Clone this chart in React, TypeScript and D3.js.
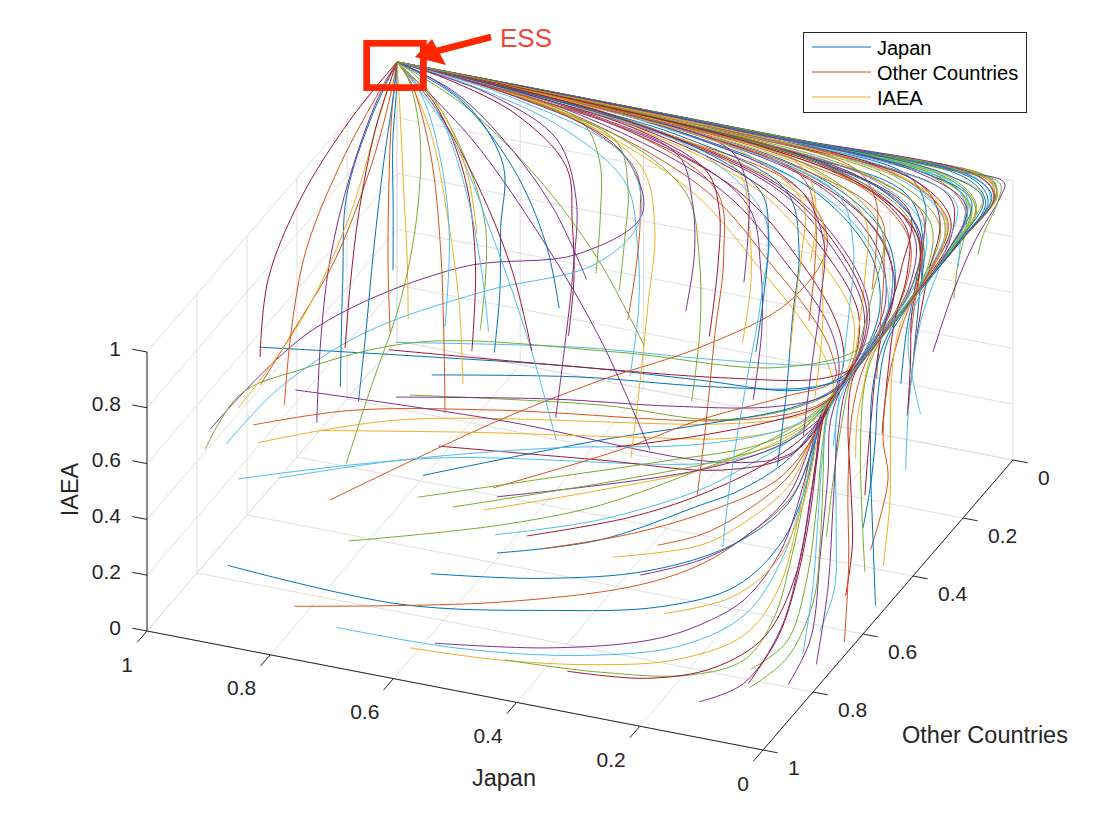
import React from "react";
import * as d3 from "d3";

// a point of a trajectory: [Japan, Other Countries, IAEA]
type Pt = [number, number, number];

const TICKS = [0, 0.2, 0.4, 0.6, 0.8, 1];
const TICK_LABELS = ["0", "0.2", "0.4", "0.6", "0.8", "1"];
const SERIES_NAMES = ["Japan", "Other Countries", "IAEA"];
const COLORS = ["#0072BD", "#D95319", "#EDB120", "#7E2F8E", "#77AC30", "#4DBEEE", "#A2142F"];
const ESS: Pt = [1, 0, 1];

// start low at the front, drift to Japan = 0, climb the right face, run along the top edge
const FRONT_RUNS: Pt[][] = [
  [[0.91,0.9,0.17],[0.63,0.9,0.15],[0.39,0.9,0.23],[0.21,0.89,0.31],[0.1,0.86,0.4],[0.04,0.82,0.55],[0.012,0.79,0.75],[0.003,0.77,0.92],[0,0.74,0.975],[0,0.6,0.99],[0,0.4,0.997],[0.001,0.2,0.999],[0.004,0.06,1],[0.03,0.01,1],[0.3,0.002,1],[1,0,1]],
  [[0.81,0.88,0.045],[0.48,0.88,0.2],[0.25,0.88,0.36],[0.15,0.87,0.47],[0.09,0.85,0.57],[0.03,0.81,0.7],[0.008,0.78,0.85],[0.002,0.75,0.95],[0.001,0.63,0.979],[0.006,0.5,0.985],[0.025,0.37,0.988],[0.08,0.22,0.99],[0.22,0.09,0.992],[0.57,0.017,0.996],[1,0,1]],
  [[0.585,0.97,0.085],[0.44,0.97,0.104],[0.28,0.97,0.155],[0.15,0.97,0.23],[0.05,0.95,0.34],[0.015,0.9,0.47],[0.005,0.85,0.66],[0.001,0.81,0.85],[0,0.77,0.96],[0,0.6,0.985],[0.001,0.42,0.992],[0.005,0.25,0.995],[0.02,0.1,0.997],[0.09,0.03,0.998],[0.42,0.006,0.999],[1,0,1]],
  [[0.553,0.95,0.095],[0.366,0.95,0.158],[0.204,0.95,0.255],[0.123,0.95,0.344],[0.058,0.93,0.443],[0.02,0.88,0.58],[0.005,0.83,0.76],[0.001,0.79,0.91],[0,0.75,0.97],[0.005,0.66,0.975],[0.02,0.56,0.98],[0.06,0.45,0.983],[0.15,0.32,0.985],[0.32,0.15,0.987],[0.65,0.03,0.994],[1,0,1]],
  [[0.419,1,0.144],[0.265,1,0.166],[0.119,1,0.218],[0.037,0.98,0.289],[0.01,0.93,0.4],[0.003,0.88,0.56],[0,0.83,0.75],[0,0.79,0.9],[0,0.76,0.97],[0,0.58,0.992],[0,0.38,0.998],[0.001,0.18,1],[0.005,0.05,1],[0.04,0.008,1],[0.36,0.001,1],[1,0,1]],
  [[0.557,0.7,0.222],[0.386,0.7,0.349],[0.224,0.7,0.525],[0.159,0.7,0.625],[0.08,0.7,0.76],[0.03,0.68,0.88],[0.008,0.64,0.95],[0,0.62,0.98],[0.004,0.48,0.987],[0.02,0.35,0.99],[0.07,0.2,0.992],[0.2,0.08,0.993],[0.55,0.015,0.996],[1,0,1]],
  [[0.505,0.7,0.24],[0.338,0.7,0.378],[0.224,0.7,0.507],[0.12,0.7,0.66],[0.04,0.72,0.83],[0.01,0.7,0.93],[0.002,0.64,0.978],[0.01,0.52,0.984],[0.035,0.4,0.987],[0.1,0.26,0.989],[0.26,0.11,0.99],[0.6,0.02,0.995],[1,0,1]],
  [[0.533,0.75,0.219],[0.366,0.75,0.337],[0.204,0.75,0.53],[0.139,0.75,0.612],[0.06,0.76,0.76],[0.015,0.75,0.9],[0.002,0.72,0.97],[0,0.6,0.986],[0.001,0.41,0.994],[0.003,0.22,0.997],[0.012,0.08,0.998],[0.065,0.02,0.999],[0.4,0.004,1],[1,0,1]],
  [[0.252,0.8,0.419],[0.183,0.8,0.485],[0.119,0.8,0.584],[0.045,0.79,0.74],[0.01,0.77,0.89],[0,0.74,0.97],[0,0.61,0.984],[0.002,0.43,0.991],[0.007,0.27,0.994],[0.028,0.12,0.996],[0.11,0.035,0.997],[0.45,0.007,0.999],[1,0,1]],
  [[0.317,0.82,0.369],[0.175,0.82,0.472],[0.11,0.82,0.572],[0.04,0.8,0.72],[0.01,0.78,0.88],[0,0.75,0.965],[0.006,0.67,0.973],[0.025,0.58,0.978],[0.07,0.47,0.981],[0.17,0.34,0.983],[0.35,0.16,0.986],[0.67,0.032,0.994],[1,0,1]],
  [[0.26,0.85,0.36],[0.163,0.85,0.455],[0.098,0.85,0.554],[0.035,0.82,0.7],[0.01,0.79,0.86],[0.002,0.76,0.96],[0.01,0.68,0.97],[0.04,0.6,0.975],[0.1,0.5,0.977],[0.22,0.36,0.98],[0.4,0.18,0.983],[0.7,0.04,0.992],[1,0,1]],
  [[0.795,0.7,0.098],[0.549,0.7,0.26],[0.386,0.7,0.401],[0.224,0.7,0.597],[0.159,0.7,0.68],[0.07,0.7,0.82],[0.02,0.68,0.92],[0.004,0.65,0.97],[0.001,0.61,0.982],[0.003,0.46,0.989],[0.013,0.32,0.991],[0.05,0.17,0.993],[0.17,0.06,0.994],[0.5,0.012,0.997],[1,0,1]],
  [[0.7,0.98,0.12],[0.5,0.98,0.13],[0.3,0.97,0.18],[0.15,0.95,0.26],[0.06,0.92,0.38],[0.02,0.87,0.55],[0.005,0.82,0.75],[0.001,0.78,0.92],[0,0.74,0.975],[0,0.6,0.988],[0,0.4,0.995],[0.002,0.2,0.998],[0.008,0.07,0.999],[0.05,0.015,1],[0.35,0.003,1],[1,0,1]],
  [[0.35,0.92,0.05],[0.22,0.92,0.08],[0.12,0.9,0.14],[0.05,0.87,0.25],[0.015,0.83,0.45],[0.004,0.8,0.7],[0,0.77,0.9],[0,0.74,0.97],[0,0.6,0.983],[0.002,0.44,0.99],[0.01,0.3,0.992],[0.04,0.15,0.994],[0.14,0.05,0.995],[0.48,0.01,0.997],[1,0,1]],
  [[0.6,0.85,0.22],[0.42,0.85,0.28],[0.25,0.84,0.37],[0.12,0.82,0.5],[0.04,0.8,0.66],[0.01,0.78,0.84],[0,0.75,0.96],[0.003,0.65,0.977],[0.013,0.54,0.982],[0.045,0.42,0.985],[0.12,0.28,0.987],[0.29,0.12,0.989],[0.62,0.022,0.995],[1,0,1]],
  [[0.45,0.78,0.3],[0.3,0.78,0.42],[0.17,0.78,0.56],[0.07,0.77,0.7],[0.02,0.76,0.85],[0.003,0.74,0.95],[0,0.6,0.99],[0,0.41,0.996],[0.001,0.21,0.999],[0.004,0.065,1],[0.035,0.012,1],[0.32,0.002,1],[1,0,1]],
  [[0.2,0.9,0.3],[0.1,0.88,0.38],[0.04,0.85,0.5],[0.012,0.81,0.68],[0.003,0.78,0.86],[0,0.75,0.965],[0.012,0.69,0.968],[0.05,0.62,0.972],[0.12,0.53,0.975],[0.25,0.39,0.978],[0.44,0.2,0.982],[0.72,0.045,0.991],[1,0,1]],
  [[0.12,0.96,0.08],[0.06,0.93,0.14],[0.02,0.88,0.3],[0.005,0.83,0.55],[0,0.79,0.8],[0,0.76,0.95],[0,0.62,0.98],[0.004,0.48,0.987],[0.02,0.35,0.99],[0.07,0.2,0.992],[0.2,0.08,0.993],[0.55,0.015,0.996],[1,0,1]],
  [[0.08,0.85,0.1],[0.03,0.83,0.2],[0.01,0.8,0.4],[0.002,0.78,0.65],[0,0.76,0.86],[0,0.73,0.97],[0,0.6,0.985],[0.001,0.42,0.992],[0.005,0.25,0.995],[0.02,0.1,0.997],[0.09,0.03,0.998],[0.42,0.006,0.999],[1,0,1]],
  [[0.03,0.7,0.1],[0.01,0.69,0.25],[0.003,0.7,0.5],[0,0.71,0.75],[0,0.7,0.92],[0.002,0.64,0.978],[0.01,0.52,0.984],[0.035,0.4,0.987],[0.1,0.26,0.989],[0.26,0.11,0.99],[0.6,0.02,0.995],[1,0,1]],
  [[0.02,0.62,0.15],[0.005,0.63,0.35],[0,0.65,0.6],[0,0.66,0.82],[0,0.64,0.96],[0.005,0.55,0.98],[0.02,0.44,0.984],[0.06,0.33,0.986],[0.15,0.2,0.988],[0.33,0.08,0.99],[0.65,0.015,0.995],[1,0,1]],
];

// start in the middle of the box, move right and up into the pinch on the top-right edge
const MID_RUNS: Pt[][] = [
  [[0.98,0.6,0.61],[0.752,0.6,0.679],[0.459,0.6,0.761],[0.265,0.6,0.797],[0.102,0.62,0.85],[0.03,0.63,0.93],[0.006,0.6,0.975],[0.015,0.48,0.982],[0.045,0.36,0.986],[0.12,0.22,0.988],[0.28,0.09,0.99],[0.6,0.018,0.995],[1,0,1]],
  [[0.929,0.75,0.509],[0.77,0.75,0.629],[0.53,0.75,0.732],[0.17,0.75,0.848],[0.05,0.74,0.92],[0.01,0.72,0.96],[0,0.6,0.99],[0,0.4,0.996],[0.002,0.19,0.998],[0.007,0.06,0.999],[0.045,0.012,1],[0.34,0.002,1],[1,0,1]],
  [[0.909,0.78,0.485],[0.679,0.78,0.665],[0.159,0.78,0.872],[0.05,0.77,0.93],[0.01,0.75,0.965],[0,0.6,0.991],[0,0.39,0.998],[0.001,0.19,1],[0.004,0.055,1],[0.035,0.009,1],[0.33,0.001,1],[1,0,1]],
  [[0.881,0.7,0.603],[0.549,0.7,0.636],[0.192,0.7,0.638],[0.07,0.72,0.74],[0.02,0.72,0.88],[0.004,0.7,0.96],[0.002,0.64,0.978],[0.012,0.53,0.983],[0.04,0.41,0.986],[0.11,0.27,0.988],[0.27,0.115,0.99],[0.61,0.021,0.995],[1,0,1]],
  [[0.695,0.7,0.664],[0.386,0.7,0.76],[0.192,0.7,0.79],[0.06,0.68,0.88],[0.01,0.66,0.95],[0,0.6,0.985],[0.001,0.43,0.991],[0.006,0.26,0.994],[0.024,0.11,0.996],[0.1,0.032,0.997],[0.43,0.006,0.999],[1,0,1]],
  [[0.933,0.8,0.366],[0.617,0.8,0.575],[0.151,0.8,0.76],[0.05,0.79,0.86],[0.012,0.77,0.94],[0,0.72,0.975],[0,0.6,0.983],[0.002,0.45,0.989],[0.012,0.31,0.991],[0.045,0.16,0.993],[0.16,0.055,0.994],[0.49,0.011,0.997],[1,0,1]],
  [[0.641,0.72,0.525],[0.378,0.72,0.587],[0.183,0.72,0.634],[0.07,0.73,0.74],[0.02,0.73,0.87],[0.004,0.7,0.96],[0.005,0.66,0.975],[0.022,0.57,0.979],[0.065,0.46,0.982],[0.16,0.33,0.984],[0.34,0.155,0.986],[0.66,0.031,0.994],[1,0,1]],
  [[0.674,0.7,0.385],[0.386,0.7,0.634],[0.224,0.7,0.758],[0.08,0.69,0.87],[0.02,0.67,0.94],[0,0.6,0.987],[0,0.4,0.994],[0.002,0.21,0.997],[0.01,0.075,0.998],[0.058,0.017,0.999],[0.38,0.003,1],[1,0,1]],
  [[0.56,0.7,0.389],[0.354,0.7,0.613],[0.224,0.7,0.776],[0.1,0.67,0.88],[0.03,0.64,0.94],[0.06,0.58,0.965],[0.12,0.5,0.972],[0.24,0.37,0.977],[0.42,0.19,0.981],[0.71,0.042,0.991],[1,0,1]],
  [[0.575,0.7,0.303],[0.386,0.7,0.455],[0.224,0.7,0.597],[0.09,0.71,0.77],[0.025,0.71,0.89],[0.005,0.69,0.96],[0,0.59,0.99],[0,0.39,0.997],[0.001,0.2,0.999],[0.005,0.065,1],[0.035,0.011,1],[0.31,0.002,1],[1,0,1]],
  [[0.574,0.65,0.299],[0.244,0.65,0.536],[0.1,0.68,0.72],[0.03,0.69,0.86],[0.006,0.67,0.95],[0,0.62,0.979],[0.005,0.49,0.986],[0.022,0.36,0.989],[0.075,0.21,0.991],[0.21,0.085,0.992],[0.56,0.016,0.996],[1,0,1]],
  [[0.605,0.75,0.353],[0.334,0.75,0.565],[0.171,0.75,0.705],[0.06,0.75,0.83],[0.015,0.74,0.93],[0,0.6,0.984],[0.001,0.42,0.991],[0.006,0.26,0.994],[0.022,0.11,0.996],[0.1,0.033,0.997],[0.44,0.006,0.999],[1,0,1]],
  [[0.8,0.5,0.6],[0.5,0.5,0.71],[0.28,0.5,0.76],[0.1,0.52,0.84],[0.03,0.55,0.93],[0.01,0.5,0.97],[0.04,0.4,0.978],[0.11,0.28,0.982],[0.25,0.14,0.985],[0.58,0.03,0.993],[1,0,1]],
  [[0.79,0.55,0.63],[0.48,0.55,0.7],[0.25,0.55,0.76],[0.08,0.57,0.85],[0.02,0.58,0.93],[0.003,0.52,0.98],[0.005,0.36,0.99],[0.02,0.2,0.994],[0.07,0.08,0.996],[0.25,0.02,0.997],[0.6,0.005,0.999],[1,0,1]],
  [[0.7,0.6,0.63],[0.46,0.6,0.725],[0.25,0.6,0.78],[0.08,0.62,0.87],[0.015,0.62,0.94],[0,0.55,0.985],[0.001,0.38,0.995],[0.003,0.2,0.998],[0.01,0.06,1],[0.06,0.012,1],[0.38,0.002,1],[1,0,1]],
  [[0.886,0.55,0.05],[0.61,0.55,0.455],[0.447,0.55,0.666],[0.3,0.5,0.8],[0.2,0.4,0.9],[0.2,0.25,0.95],[0.3,0.12,0.97],[0.6,0.04,0.985],[1,0,1]],
  [[0.85,0.68,0.45],[0.6,0.68,0.55],[0.35,0.68,0.64],[0.16,0.7,0.74],[0.05,0.72,0.86],[0.01,0.71,0.95],[0,0.6,0.982],[0.002,0.45,0.989],[0.011,0.31,0.992],[0.042,0.16,0.994],[0.15,0.052,0.995],[0.49,0.011,0.997],[1,0,1]],
  [[0.75,0.62,0.55],[0.5,0.62,0.65],[0.3,0.63,0.72],[0.13,0.66,0.82],[0.04,0.68,0.91],[0.008,0.67,0.96],[0.004,0.655,0.976],[0.018,0.55,0.981],[0.055,0.44,0.984],[0.14,0.31,0.986],[0.31,0.145,0.988],[0.64,0.028,0.994],[1,0,1]],
  [[0.65,0.78,0.4],[0.45,0.78,0.55],[0.25,0.78,0.7],[0.1,0.78,0.82],[0.03,0.77,0.91],[0.005,0.75,0.965],[0,0.61,0.99],[0,0.41,0.997],[0.001,0.2,0.999],[0.004,0.06,1],[0.028,0.01,1],[0.28,0.002,1],[1,0,1]],
  [[0.9,0.72,0.3],[0.7,0.72,0.45],[0.45,0.72,0.6],[0.22,0.73,0.72],[0.08,0.74,0.84],[0.02,0.74,0.93],[0,0.6,0.981],[0.005,0.47,0.987],[0.018,0.34,0.99],[0.065,0.19,0.992],[0.19,0.075,0.993],[0.54,0.014,0.996],[1,0,1]],
  [[0.4,0.6,0.5],[0.26,0.62,0.62],[0.14,0.64,0.74],[0.05,0.67,0.86],[0.012,0.68,0.94],[0.009,0.675,0.968],[0.035,0.59,0.974],[0.09,0.49,0.977],[0.2,0.35,0.98],[0.38,0.17,0.984],[0.68,0.038,0.992],[1,0,1]],
];

// IAEA rises first, then Japan turns back towards the ESS
const HAIRPIN_RUNS: Pt[][] = [
  [[0.08,0.2,0.55],[0.075,0.19,0.75],[0.08,0.16,0.9],[0.14,0.08,0.975],[0.35,0.03,0.985],[0.68,0.008,0.995],[1,0,1]],
  [[0.12,0.25,0.5],[0.115,0.245,0.72],[0.12,0.22,0.88],[0.16,0.14,0.955],[0.33,0.06,0.975],[0.66,0.015,0.992],[1,0,1]],
  [[0.2,0.3,0.45],[0.19,0.295,0.68],[0.2,0.27,0.84],[0.25,0.16,0.94],[0.42,0.07,0.965],[0.72,0.018,0.99],[1,0,1]],
  [[0.3,0.3,0.4],[0.29,0.29,0.65],[0.3,0.27,0.84],[0.36,0.17,0.93],[0.52,0.07,0.96],[0.78,0.018,0.988],[1,0,1]],
  [[0.4,0.3,0.35],[0.39,0.29,0.62],[0.4,0.27,0.84],[0.46,0.17,0.93],[0.6,0.07,0.96],[0.82,0.018,0.988],[1,0,1]],
  [[0.5,0.3,0.4],[0.49,0.29,0.64],[0.5,0.27,0.84],[0.56,0.17,0.93],[0.7,0.07,0.96],[0.87,0.018,0.988],[1,0,1]],
  [[0.6,0.3,0.5],[0.595,0.29,0.7],[0.61,0.26,0.86],[0.66,0.16,0.935],[0.78,0.06,0.965],[0.91,0.015,0.99],[1,0,1]],
  [[0.7,0.35,0.45],[0.695,0.34,0.66],[0.71,0.3,0.84],[0.75,0.19,0.93],[0.85,0.07,0.965],[0.94,0.018,0.99],[1,0,1]],
  [[0.25,0.2,0.6],[0.245,0.19,0.78],[0.26,0.15,0.91],[0.31,0.08,0.965],[0.5,0.03,0.982],[0.76,0.008,0.994],[1,0,1]],
  [[0.35,0.22,0.5],[0.34,0.21,0.72],[0.36,0.17,0.88],[0.41,0.09,0.955],[0.57,0.035,0.978],[0.8,0.009,0.993],[1,0,1]],
  [[0.45,0.2,0.55],[0.44,0.19,0.75],[0.46,0.15,0.89],[0.51,0.08,0.955],[0.66,0.03,0.978],[0.85,0.008,0.993],[1,0,1]],
  [[0.55,0.22,0.6],[0.545,0.21,0.78],[0.56,0.16,0.9],[0.61,0.08,0.96],[0.74,0.03,0.98],[0.9,0.008,0.994],[1,0,1]],
  [[0.15,0.35,0.35],[0.14,0.34,0.6],[0.14,0.31,0.8],[0.17,0.22,0.92],[0.24,0.11,0.965],[0.45,0.04,0.982],[0.74,0.01,0.994],[1,0,1]],
  [[0.05,0.3,0.45],[0.045,0.28,0.68],[0.05,0.22,0.86],[0.07,0.12,0.955],[0.13,0.05,0.985],[0.36,0.015,0.993],[0.7,0.004,0.998],[1,0,1]],
  [[0.1,0.12,0.7],[0.1,0.115,0.84],[0.11,0.08,0.95],[0.16,0.03,0.985],[0.4,0.008,0.994],[0.73,0.002,0.998],[1,0,1]],
  [[0.18,0.12,0.66],[0.175,0.115,0.82],[0.19,0.08,0.93],[0.24,0.035,0.975],[0.46,0.01,0.99],[0.76,0.003,0.997],[1,0,1]],
  [[0.28,0.12,0.72],[0.275,0.11,0.86],[0.3,0.07,0.945],[0.36,0.03,0.98],[0.56,0.009,0.992],[0.8,0.002,0.998],[1,0,1]],
  [[0.38,0.14,0.62],[0.375,0.135,0.8],[0.39,0.1,0.91],[0.44,0.045,0.968],[0.62,0.013,0.988],[0.84,0.003,0.997],[1,0,1]],
  [[0.62,0.14,0.55],[0.615,0.135,0.76],[0.63,0.1,0.9],[0.68,0.045,0.965],[0.8,0.013,0.987],[0.92,0.003,0.997],[1,0,1]],
  [[0.02,0.38,0.35],[0.018,0.37,0.6],[0.02,0.32,0.82],[0.03,0.2,0.94],[0.06,0.08,0.98],[0.22,0.02,0.993],[0.6,0.004,0.998],[1,0,1]],
  [[0.07,0.42,0.28],[0.065,0.41,0.52],[0.07,0.36,0.76],[0.08,0.25,0.91],[0.12,0.12,0.965],[0.3,0.04,0.985],[0.66,0.01,0.995],[1,0,1]],
  [[0.22,0.4,0.3],[0.21,0.39,0.55],[0.22,0.34,0.77],[0.25,0.24,0.9],[0.32,0.12,0.955],[0.52,0.04,0.978],[0.8,0.01,0.992],[1,0,1]],
  [[0.33,0.45,0.2],[0.32,0.44,0.45],[0.33,0.38,0.7],[0.36,0.27,0.86],[0.42,0.15,0.94],[0.6,0.05,0.972],[0.84,0.012,0.99],[1,0,1]],
  [[0.45,0.42,0.25],[0.44,0.41,0.5],[0.45,0.35,0.74],[0.48,0.25,0.88],[0.55,0.13,0.95],[0.7,0.04,0.975],[0.88,0.01,0.992],[1,0,1]],
  [[0.58,0.4,0.32],[0.57,0.39,0.56],[0.58,0.33,0.78],[0.62,0.22,0.9],[0.7,0.1,0.955],[0.83,0.03,0.98],[0.94,0.007,0.994],[1,0,1]],
  [[0.1,0.5,0.2],[0.09,0.49,0.45],[0.09,0.43,0.7],[0.1,0.32,0.87],[0.14,0.18,0.95],[0.3,0.06,0.98],[0.64,0.015,0.994],[1,0,1]],
  [[0.26,0.52,0.12],[0.25,0.51,0.38],[0.25,0.45,0.64],[0.27,0.34,0.83],[0.32,0.2,0.93],[0.48,0.07,0.97],[0.78,0.016,0.99],[1,0,1]],
  [[0.03,0.45,0.55],[0.025,0.44,0.75],[0.03,0.4,0.9],[0.05,0.3,0.96],[0.1,0.18,0.975],[0.24,0.07,0.985],[0.6,0.012,0.995],[1,0,1]],
  [[0.04,0.35,0.62],[0.035,0.34,0.8],[0.04,0.29,0.92],[0.07,0.2,0.965],[0.14,0.11,0.98],[0.32,0.04,0.988],[0.66,0.008,0.996],[1,0,1]],
  [[0.06,0.26,0.7],[0.055,0.25,0.84],[0.065,0.2,0.935],[0.1,0.12,0.972],[0.2,0.06,0.983],[0.42,0.02,0.99],[0.74,0.004,0.997],[1,0,1]],
  [[0.13,0.33,0.55],[0.12,0.32,0.76],[0.13,0.27,0.9],[0.17,0.17,0.96],[0.27,0.08,0.978],[0.5,0.025,0.988],[0.8,0.005,0.996],[1,0,1]],
  [[0.17,0.42,0.45],[0.16,0.41,0.7],[0.17,0.35,0.87],[0.21,0.24,0.945],[0.3,0.12,0.972],[0.52,0.035,0.985],[0.82,0.006,0.995],[1,0,1]],
  [[0.015,0.2,0.78],[0.012,0.19,0.9],[0.02,0.14,0.965],[0.05,0.07,0.99],[0.13,0.025,0.996],[0.4,0.005,0.998],[1,0,1]],
  [[0.04,0.12,0.8],[0.04,0.11,0.9],[0.05,0.07,0.975],[0.1,0.025,0.994],[0.3,0.006,0.998],[0.65,0.001,1],[1,0,1]],
  [[0.42,0.18,0.45],[0.41,0.17,0.7],[0.42,0.14,0.86],[0.46,0.09,0.93],[0.58,0.04,0.965],[0.8,0.01,0.99],[1,0,1]],
  [[0.32,0.24,0.5],[0.31,0.23,0.72],[0.32,0.19,0.86],[0.36,0.12,0.93],[0.5,0.05,0.965],[0.76,0.012,0.99],[1,0,1]],
  [[0.52,0.26,0.55],[0.51,0.25,0.74],[0.52,0.21,0.87],[0.56,0.13,0.935],[0.68,0.05,0.968],[0.86,0.012,0.99],[1,0,1]],
  [[0.24,0.3,0.6],[0.235,0.29,0.78],[0.245,0.24,0.9],[0.28,0.15,0.955],[0.4,0.06,0.978],[0.7,0.014,0.993],[1,0,1]],
];

// start near the left wall
const LEFT_RUNS: Pt[][] = [
  [[0.95,0.87,0.61],[0.85,0.71,0.84],[0.7,0.49,0.9],[0.55,0.38,0.9],[0.5,0.25,0.93],[0.6,0.1,0.965],[0.82,0.02,0.99],[1,0,1]],
  [[0.97,0.84,0.5],[0.93,0.8,0.67],[0.85,0.76,0.75],[0.7,0.65,0.8],[0.4,0.6,0.84],[0.15,0.58,0.87],[0.04,0.52,0.92],[0.02,0.4,0.965],[0.045,0.26,0.975],[0.12,0.14,0.982],[0.29,0.05,0.987],[0.61,0.013,0.995],[1,0,1]],
  [[0.96,0.78,0.46],[0.9,0.72,0.62],[0.8,0.62,0.76],[0.66,0.5,0.84],[0.52,0.38,0.88],[0.5,0.26,0.92],[0.58,0.12,0.96],[0.8,0.03,0.988],[1,0,1]],
];

// straight up into the ESS
const DIRECT_RUNS: Pt[][] = [
  [[1,0.548,0.512],[1,0.516,0.755],[1,0.388,0.909],[1,0.188,0.987],ESS],
  [[0.95,0.35,0.22],[0.95,0.34,0.6],[0.96,0.3,0.85],[0.98,0.15,0.97],ESS],
  [[0.9,0.274,0.357],[0.905,0.27,0.6],[0.92,0.23,0.82],[0.96,0.12,0.95],ESS],
  [[0.8,0.229,0.17],[0.81,0.22,0.45],[0.84,0.19,0.7],[0.9,0.11,0.9],[0.97,0.03,0.985],ESS],
  [[0.95,0.444,0.19],[0.95,0.43,0.45],[0.955,0.38,0.7],[0.97,0.26,0.88],[0.99,0.1,0.98],ESS],
  [[0.8,0.16,0.29],[0.8,0.14,0.65],[0.88,0.08,0.9],[0.96,0.02,0.985],ESS],
  [[0.85,0.178,0.3],[0.85,0.16,0.6],[0.88,0.12,0.82],[0.94,0.05,0.96],ESS],
  [[0.82,0.144,0.19],[0.82,0.13,0.5],[0.85,0.1,0.76],[0.92,0.045,0.93],ESS],
  [[0.92,0.213,0.51],[0.925,0.2,0.7],[0.95,0.14,0.88],[0.98,0.05,0.98],ESS],
  [[0.97,0.62,0.5],[0.97,0.48,0.56],[0.97,0.32,0.64],[0.98,0.15,0.8],[0.99,0.05,0.94],ESS],
  [[0.99,0.66,0.45],[0.985,0.55,0.48],[0.98,0.4,0.55],[0.985,0.22,0.7],[0.995,0.08,0.9],ESS],
  [[0.5,0.22,0.05],[0.6,0.17,0.35],[0.72,0.11,0.6],[0.86,0.05,0.84],ESS],
  [[0.55,0.12,0.3],[0.64,0.09,0.55],[0.75,0.06,0.76],[0.88,0.025,0.92],ESS],
  [[0.62,0.3,0.12],[0.68,0.26,0.4],[0.77,0.18,0.65],[0.88,0.08,0.87],ESS],
  [[0.7,0.2,0.3],[0.74,0.18,0.55],[0.82,0.12,0.76],[0.92,0.05,0.93],ESS],
  [[0.88,0.45,0.3],[0.88,0.42,0.52],[0.9,0.34,0.72],[0.94,0.2,0.88],[0.98,0.06,0.975],ESS],
  [[0.78,0.35,0.2],[0.79,0.33,0.45],[0.82,0.27,0.7],[0.88,0.16,0.88],[0.96,0.04,0.98],ESS],
  [[0.86,0.3,0.45],[0.87,0.28,0.65],[0.9,0.22,0.82],[0.95,0.11,0.94],ESS],
  [[0.66,0.08,0.45],[0.72,0.06,0.65],[0.8,0.04,0.82],[0.9,0.015,0.95],ESS],
  [[0.9,0.45,0.07],[0.88,0.4,0.3],[0.86,0.33,0.55],[0.87,0.24,0.76],[0.91,0.13,0.91],[0.97,0.03,0.985],ESS],
  [[0.75,0.25,0.4],[0.77,0.23,0.6],[0.82,0.17,0.8],[0.9,0.08,0.94],ESS],
  [[0.93,0.38,0.4],[0.93,0.36,0.6],[0.94,0.3,0.8],[0.97,0.16,0.94],ESS],
  [[0.68,0.14,0.4],[0.71,0.12,0.6],[0.78,0.08,0.8],[0.89,0.03,0.95],ESS],
  [[0.98,0.5,0.3],[0.98,0.47,0.55],[0.985,0.4,0.75],[0.99,0.25,0.9],[0.995,0.08,0.985],ESS],
  [[0.85,0.05,0.5],[0.87,0.04,0.7],[0.92,0.02,0.88],ESS],
];

// start on or near the Japan = 0 face
const FACE_RUNS: Pt[][] = [
  [[0,0.9,0.13],[0,0.81,0.2],[0,0.77,0.47],[0,0.74,0.72],[0,0.73,0.9],[0,0.68,0.975],[0,0.58,0.99],[0,0.39,0.997],[0.001,0.19,0.999],[0.006,0.06,1],[0.045,0.01,1],[0.4,0.002,1],[1,0,1]],
  [[0.03,0.98,0.19],[0.01,0.88,0.2],[0,0.8,0.32],[0,0.77,0.52],[0,0.76,0.72],[0,0.75,0.9],[0,0.72,0.97],[0,0.6,0.986],[0.001,0.43,0.992],[0.004,0.26,0.995],[0.018,0.1,0.997],[0.085,0.028,0.998],[0.41,0.005,0.999],[1,0,1]],
  [[0,0.84,0.18],[0,0.8,0.38],[0,0.78,0.6],[0,0.76,0.82],[0,0.73,0.95],[0,0.6,0.982],[0.003,0.45,0.988],[0.012,0.31,0.991],[0.045,0.16,0.993],[0.15,0.055,0.994],[0.49,0.011,0.997],[1,0,1]],
  [[0.04,0.96,0.18],[0.015,0.9,0.3],[0.005,0.85,0.46],[0,0.81,0.66],[0,0.78,0.84],[0,0.75,0.96],[0.004,0.66,0.975],[0.018,0.56,0.98],[0.055,0.45,0.983],[0.14,0.32,0.985],[0.31,0.15,0.987],[0.64,0.03,0.994],[1,0,1]],
  [[0,0.6,0.38],[0,0.57,0.5],[0,0.55,0.65],[0,0.54,0.8],[0,0.5,0.95],[0.002,0.38,0.988],[0.01,0.22,0.993],[0.035,0.08,0.996],[0.15,0.02,0.997],[0.5,0.005,0.999],[1,0,1]],
  [[0,0.57,0.27],[0,0.5,0.45],[0,0.52,0.62],[0,0.5,0.8],[0,0.45,0.93],[0.02,0.34,0.965],[0.06,0.22,0.972],[0.15,0.12,0.978],[0.33,0.05,0.984],[0.65,0.012,0.994],[1,0,1]],
  [[0.02,0.58,0.6],[0.01,0.6,0.75],[0,0.6,0.88],[0,0.56,0.97],[0.004,0.4,0.985],[0.01,0.22,0.991],[0.025,0.06,0.997],[0.12,0.014,0.998],[0.48,0.004,0.999],[1,0,1]],
  [[0,0.32,0.72],[0,0.24,0.85],[0,0.15,0.945],[0,0.05,0.995],[0.01,0.01,1],[0.1,0.003,1],[0.5,0.001,1],[1,0,1]],
  [[0,0.14,0.88],[0,0.12,0.93],[0,0.06,0.99],[0.015,0.015,1],[0.12,0.004,1],[0.5,0.0015,1],[1,0,1]],
  [[0,0.37,0.55],[0,0.4,0.7],[0,0.42,0.85],[0,0.4,0.95],[0.008,0.28,0.982],[0.02,0.14,0.99],[0.06,0.05,0.995],[0.2,0.015,0.996],[0.55,0.004,0.998],[1,0,1]],
  [[0,0.42,0.62],[0,0.41,0.78],[0.01,0.38,0.92],[0.03,0.3,0.97],[0.08,0.19,0.978],[0.2,0.09,0.983],[0.4,0.03,0.988],[0.7,0.007,0.996],[1,0,1]],
  [[0,0.55,0.05],[0,0.56,0.3],[0,0.57,0.6],[0,0.56,0.85],[0,0.5,0.97],[0.001,0.36,0.99],[0.005,0.2,0.995],[0.02,0.07,0.998],[0.1,0.018,0.999],[0.45,0.004,1],[1,0,1]],
  [[0.01,0.65,0.02],[0.003,0.65,0.3],[0,0.66,0.6],[0,0.64,0.85],[0,0.58,0.97],[0.002,0.45,0.985],[0.012,0.3,0.99],[0.045,0.15,0.993],[0.16,0.05,0.995],[0.5,0.01,0.998],[1,0,1]],
  [[0.02,0.47,0.1],[0.005,0.48,0.35],[0,0.49,0.62],[0,0.48,0.85],[0,0.44,0.97],[0.008,0.33,0.982],[0.03,0.2,0.988],[0.09,0.09,0.991],[0.26,0.025,0.993],[0.6,0.005,0.997],[1,0,1]],
  [[0.015,0.75,0.04],[0.004,0.73,0.3],[0,0.72,0.58],[0,0.7,0.82],[0,0.66,0.96],[0,0.55,0.985],[0.002,0.4,0.991],[0.009,0.24,0.994],[0.035,0.1,0.996],[0.14,0.028,0.997],[0.47,0.006,0.999],[1,0,1]],
  [[0.005,0.58,0.2],[0.002,0.6,0.45],[0,0.61,0.7],[0,0.59,0.9],[0,0.54,0.975],[0.004,0.42,0.986],[0.02,0.29,0.99],[0.07,0.16,0.992],[0.21,0.06,0.994],[0.56,0.012,0.997],[1,0,1]],
];

// oblique view of the unit cube: each axis moves the screen point along its own direction
const ORIGIN = { x: 1013, y: 460 };
const xJ = d3.scaleLinear().domain([0, 1]).range([0, -616]);
const yJ = d3.scaleLinear().domain([0, 1]).range([0, -119]);
const xO = d3.scaleLinear().domain([0, 1]).range([0, -250]);
const yO = d3.scaleLinear().domain([0, 1]).range([0, 290]);
const yZ = d3.scaleLinear().domain([0, 1]).range([0, -279]);

function project([j, o, z]: Pt): [number, number] {
  return [ORIGIN.x + xJ(j) + xO(o), ORIGIN.y + yJ(j) + yO(o) + yZ(z)];
}

const FONT = "'Liberation Sans', Arial, Helvetica, sans-serif";
const AXIS = "#262626";
const GRID = "#dfdfdf";

export default function App() {
  const line = d3.line<[number, number]>().curve(d3.curveCatmullRom.alpha(0.5));
  const runs = [...FRONT_RUNS, ...MID_RUNS, ...HAIRPIN_RUNS, ...LEFT_RUNS, ...DIRECT_RUNS, ...FACE_RUNS];

  const grid: [Pt, Pt][] = [];
  TICKS.forEach((t) => {
    grid.push([[t, 0, 0], [t, 1, 0]]);
    grid.push([[0, t, 0], [1, t, 0]]);
    grid.push([[t, 0, 0], [t, 0, 1]]);
    grid.push([[0, 0, t], [1, 0, t]]);
    grid.push([[1, t, 0], [1, t, 1]]);
    grid.push([[1, 0, t], [1, 1, t]]);
  });

  const axes: [Pt, Pt][] = [
    [[1, 1, 0], [0, 1, 0]],
    [[0, 1, 0], [0, 0, 0]],
    [[1, 1, 0], [1, 1, 1]],
  ];

  const seg = (a: Pt, b: Pt) => {
    const [x1, y1] = project(a);
    const [x2, y2] = project(b);
    return { x1, y1, x2, y2 };
  };

  const ess = project(ESS);
  const jLab = project([0.5, 1, 0]);
  const oLab = project([0, 0.5, 0]);
  const zLab = project([1, 1, 0.5]);

  return (
    <svg
      width={1120}
      height={840}
      style={{ position: "absolute", left: 0, top: 0, background: "#fff" }}
      fontFamily={FONT}
    >
      <rect width={1120} height={840} fill="#fff" />

      {/* grid on floor and the two back walls */}
      {grid.map(([a, b], i) => (
        <line key={"g" + i} {...seg(a, b)} stroke={GRID} strokeWidth={1} />
      ))}

      {/* axis lines */}
      {axes.map(([a, b], i) => (
        <line key={"a" + i} {...seg(a, b)} stroke={AXIS} strokeWidth={1} />
      ))}

      {/* ticks and tick labels */}
      {TICKS.map((t, i) => {
        const [px, py] = project([t, 1, 0]);
        return (
          <g key={"tj" + i}>
            <line x1={px} y1={py} x2={px - 9.8} y2={py + 11.4} stroke={AXIS} />
            <text x={px - 14} y={py + 33} textAnchor="end" dominantBaseline="central" fontSize={21} fill={AXIS}>
              {TICK_LABELS[i]}
            </text>
          </g>
        );
      })}
      {TICKS.map((t, i) => {
        const [px, py] = project([0, t, 0]);
        return (
          <g key={"to" + i}>
            <line x1={px} y1={py} x2={px + 14.7} y2={py + 2.8} stroke={AXIS} />
            <text x={px + 25} y={py + 17} textAnchor="start" dominantBaseline="central" fontSize={21} fill={AXIS}>
              {TICK_LABELS[i]}
            </text>
          </g>
        );
      })}
      {TICKS.map((t, i) => {
        const [px, py] = project([1, 1, t]);
        return (
          <g key={"tz" + i}>
            <line x1={px} y1={py} x2={px - 14.7} y2={py - 2.8} stroke={AXIS} />
            <text x={px - 26} y={py - 4} textAnchor="end" dominantBaseline="central" fontSize={21} fill={AXIS}>
              {TICK_LABELS[i]}
            </text>
          </g>
        );
      })}

      {/* axis titles */}
      <text x={jLab[0] + 49} y={jLab[1] + 87} textAnchor="middle" dominantBaseline="central" fontSize={23.5} fill={AXIS}>
        Japan
      </text>
      <text x={oLab[0] + 97} y={oLab[1] + 130} textAnchor="middle" dominantBaseline="central" fontSize={23.5} fill={AXIS}>
        Other Countries
      </text>
      <text
        transform={`translate(${zLab[0] - 77},${zLab[1] - 2}) rotate(-90)`}
        textAnchor="middle"
        dominantBaseline="central"
        fontSize={23.5}
        fill={AXIS}
      >
        IAEA
      </text>

      {/* trajectories */}
      <g fill="none" strokeWidth={1}>
        {runs.map((run, i) => (
          <path key={"r" + i} d={line(run.map(project)) || ""} stroke={COLORS[i % COLORS.length]} />
        ))}
      </g>

      {/* legend */}
      <rect x={803.5} y={32.5} width={223} height={80} fill="#fff" stroke={AXIS} strokeWidth={1} />
      {SERIES_NAMES.map((name, i) => (
        <g key={"l" + i}>
          <line x1={812} x2={871} y1={47 + i * 25} y2={47 + i * 25} stroke={COLORS[i]} strokeWidth={1} />
          <text x={877} y={48 + i * 25} dominantBaseline="central" fontSize={20} fill="#000">
            {name}
          </text>
        </g>
      ))}

      {/* ESS annotation */}
      <rect
        x={ess[0] - 30.3}
        y={ess[1] - 18.7}
        width={56.7}
        height={44.3}
        fill="none"
        stroke="#ff2600"
        strokeWidth={6.7}
      />
      <line x1={ess[0] + 94} y1={ess[1] - 25} x2={ess[0] + 40} y2={ess[1] - 11} stroke="#ff2600" strokeWidth={6.7} />
      <polygon
        points={`${ess[0] + 18},${ess[1] - 5} ${ess[0] + 35},${ess[1] - 23} ${ess[0] + 49},${ess[1] + 3}`}
        fill="#ff2600"
      />
      <text x={ess[0] + 103} y={ess[1] - 15} fontSize={26} fill="#f2463b">
        ESS
      </text>
    </svg>
  );
}
